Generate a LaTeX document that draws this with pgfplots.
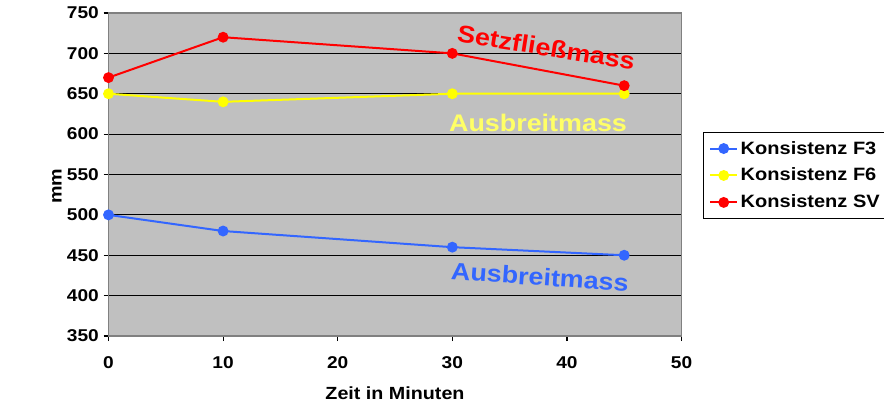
\documentclass[border=0pt]{standalone}
\usepackage{fontspec}
\setmainfont{Liberation Sans}[FakeStretch=1.12]
\usepackage{pgfplots}
\pgfplotsset{compat=1.18}

\definecolor{plotbg}{RGB}{192,192,192}
\definecolor{fthree}{RGB}{51,102,255}
\definecolor{fsix}{RGB}{255,255,0}
\definecolor{fsixtext}{RGB}{255,255,102}
\definecolor{sv}{RGB}{255,0,0}
\definecolor{frame}{RGB}{128,128,128}

\begin{document}
\begin{tikzpicture}
\path[use as bounding box] (0pt,0pt) rectangle (663pt,305.25pt);
\begin{axis}[
  at={(81.375pt,53.25pt)}, anchor=south west,
  scale only axis,
  width=429.75pt, height=242.25pt,
  xmin=0, xmax=50, ymin=350, ymax=750,
  xtick={0,10,20,30,40,50},
  ytick={350,400,...,750},
  tick pos=left,
  tick align=outside,
  major tick length=3.75pt,
  tick style={black, line width=0.9pt},
  axis background/.style={fill=plotbg},
  axis line style={draw=frame, line width=0.9pt},
  ymajorgrids,
  major grid style={black, line width=0.7pt},
  /pgf/number format/assume math mode=true,
  ticklabel style={font=\fontsize{12.8}{14}\selectfont\bfseries},
  xticklabel style={yshift=-8pt},
  xlabel={Zeit in Minuten},
  ylabel={mm},
  label style={font=\fontsize{13.2}{15}\selectfont\bfseries},
  xlabel style={at={(axis description cs:0.5,-0.1765)}, anchor=center},
  ylabel style={at={(axis description cs:-0.0899,0.464)}, anchor=center},
  legend style={
    at={(1.0375,0.6316)}, anchor=north west,
    draw=black, line width=0.6pt, fill=white,
    font=\fontsize{13.4}{15}\selectfont\bfseries,
    inner xsep=4.5pt, inner ysep=4.5pt, row sep=5pt,
    legend cell align=left,
  },
  legend image code/.code={
    \draw[#1, line width=1.5pt] (0pt,0pt) -- (20pt,0pt);
    \draw[#1, mark repeat=1, only marks] plot coordinates {(10pt,0pt)};
  },
  every axis plot/.append style={line width=1.5pt, mark=*, mark size=3.3pt},
]
\addplot[color=fthree, mark options={fill=fthree, draw=fthree}] coordinates {
  (0,500) (10,480) (30,460) (45,450)
};
\addlegendentry{Konsistenz F3}
\addplot[color=fsix, mark options={fill=fsix, draw=fsix}] coordinates {
  (0,650) (10,640) (30,650) (45,650)
};
\addlegendentry{Konsistenz F6}
\addplot[color=sv, mark options={fill=sv, draw=sv}] coordinates {
  (0,670) (10,720) (30,700) (45,660)
};
\addlegendentry{Konsistenz SV}

\node[text=sv, font=\fontsize{18}{20}\selectfont\bfseries, rotate=-9]
  at (axis cs:38.2,707.5) {Setzfließmass};
\node[text=fsixtext, font=\fontsize{18}{20}\selectfont\bfseries]
  at (axis cs:37.48,613.8) {Ausbreitmass};
\node[text=fthree, font=\fontsize{18}{20}\selectfont\bfseries, rotate=-4]
  at (axis cs:37.65,423.1) {Ausbreitmass};
\end{axis}
\end{tikzpicture}
\end{document}
